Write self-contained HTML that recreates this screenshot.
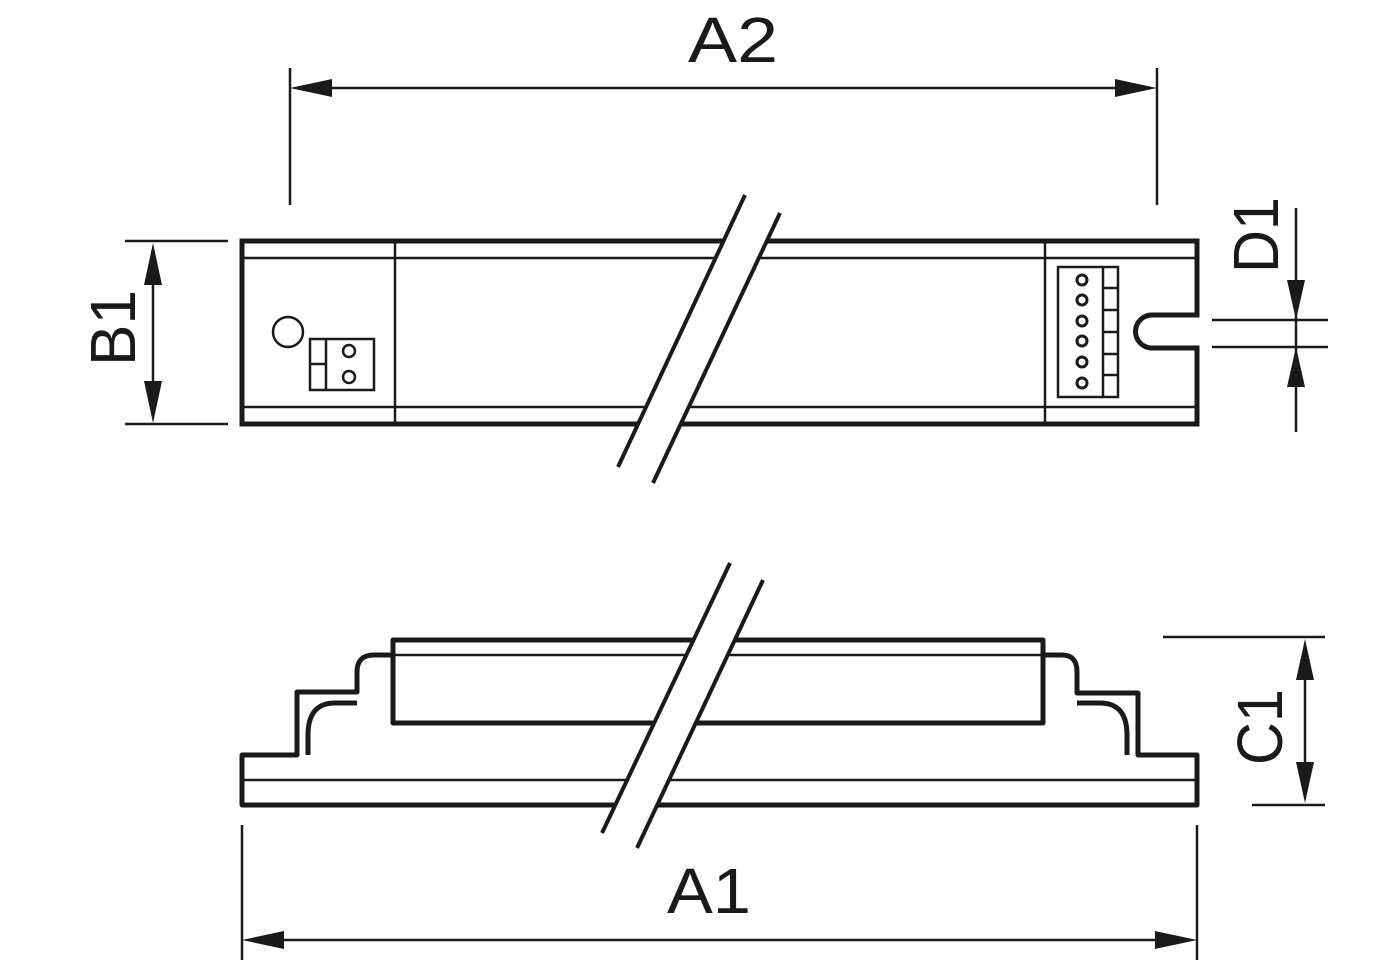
<!DOCTYPE html>
<html><head><meta charset="utf-8"><style>html,body{margin:0;padding:0;background:#fff}svg{display:block}</style></head>
<body>
<svg width="1400" height="960" viewBox="0 0 1400 960" xmlns="http://www.w3.org/2000/svg" font-family="Liberation Sans, Arial, sans-serif" fill="none" stroke="#1a1a1a">
<!-- A2 dimension -->
<g stroke-width="2.5">
<line x1="290" y1="68" x2="290" y2="205"/>
<line x1="1157" y1="68" x2="1157" y2="205"/>
<line x1="300" y1="88" x2="1147" y2="88"/>
</g>
<polygon points="290,88 332,79 332,97" fill="#1a1a1a" stroke="none"/>
<polygon points="1157,88 1115,79 1115,97" fill="#1a1a1a" stroke="none"/>
<text x="733" y="62" font-size="64" text-anchor="middle" fill="#1a1a1a" stroke="none" textLength="90" lengthAdjust="spacingAndGlyphs">A2</text>

<!-- B1 dimension -->
<g stroke-width="2.5">
<line x1="125" y1="241" x2="228" y2="241"/>
<line x1="125" y1="424" x2="228" y2="424"/>
<line x1="153" y1="250" x2="153" y2="415"/>
</g>
<polygon points="153,243 144,285 162,285" fill="#1a1a1a" stroke="none"/>
<polygon points="153,423 144,381 162,381" fill="#1a1a1a" stroke="none"/>
<text transform="translate(135,328) rotate(-90)" font-size="64" text-anchor="middle" fill="#1a1a1a" stroke="none" textLength="76" lengthAdjust="spacingAndGlyphs">B1</text>

<!-- Top view -->
<path d="M242,241 H1197 V315 H1152 A16.5,16.5 0 0 0 1152,348 H1197 V424 H242 Z" stroke-width="5"/>
<g stroke-width="2.5">
<line x1="242" y1="258" x2="1197" y2="258"/>
<line x1="242" y1="407" x2="1197" y2="407"/>
<line x1="395" y1="241" x2="395" y2="424"/>
<line x1="1045" y1="241" x2="1045" y2="424"/>
<circle cx="288" cy="332" r="15"/>
<rect x="310" y="339" width="64" height="51"/>
<line x1="326" y1="339" x2="326" y2="390"/>
<line x1="310" y1="364" x2="326" y2="364"/>
<circle cx="349" cy="351" r="6"/>
<circle cx="349" cy="377" r="6"/>
<rect x="1058" y="267" width="60" height="130"/>
<line x1="1103" y1="267" x2="1103" y2="397"/>
<line x1="1103" y1="288" x2="1118" y2="288"/>
<line x1="1103" y1="310" x2="1118" y2="310"/>
<line x1="1103" y1="332" x2="1118" y2="332"/>
<line x1="1103" y1="354" x2="1118" y2="354"/>
<line x1="1103" y1="375" x2="1118" y2="375"/>
</g>
<g stroke-width="3">
<circle cx="1082" cy="280" r="5"/>
<circle cx="1082" cy="300" r="5"/>
<circle cx="1082" cy="321" r="5"/>
<circle cx="1082" cy="341" r="5"/>
<circle cx="1082" cy="362" r="5"/>
<circle cx="1082" cy="383" r="5"/>
</g>
<!-- top break -->
<polygon points="745,195 780,213 653,483 618,467" fill="#fff" stroke="none"/>
<g stroke-width="4">
<line x1="745" y1="195" x2="618" y2="467"/>
<line x1="780" y1="213" x2="653" y2="483"/>
</g>

<!-- D1 dimension -->
<g stroke-width="2.5">
<line x1="1212" y1="320" x2="1328" y2="320"/>
<line x1="1212" y1="347" x2="1328" y2="347"/>
<line x1="1296" y1="208" x2="1296" y2="432"/>
</g>
<polygon points="1296,320 1287,280 1305,280" fill="#1a1a1a" stroke="none"/>
<polygon points="1296,347 1287,387 1305,387" fill="#1a1a1a" stroke="none"/>
<text transform="translate(1278,235) rotate(-90)" font-size="64" text-anchor="middle" fill="#1a1a1a" stroke="none" textLength="76" lengthAdjust="spacingAndGlyphs">D1</text>

<!-- Side view -->
<g stroke-width="5" stroke-linejoin="round">
<path d="M393,655 H374 Q357,655 357,672 V692 H297 V755 H242 V805 H1197 V755 H1138 V693 H1077 V672 Q1077,655 1062,655 H1043"/>
<path d="M308,755 V735 Q308,703 335,703 H357"/>
<path d="M1077,703 H1100 Q1127,703 1127,735 V755"/>
<rect x="393" y="640" width="650" height="83"/>
</g>
<g stroke-width="2.5">
<line x1="242" y1="780" x2="1197" y2="780"/>
<line x1="393" y1="655" x2="1043" y2="655"/>
</g>
<!-- bottom break -->
<polygon points="730,563 763,580 637,848 602,833" fill="#fff" stroke="none"/>
<g stroke-width="4">
<line x1="730" y1="563" x2="602" y2="833"/>
<line x1="763" y1="580" x2="637" y2="848"/>
</g>

<!-- C1 dimension -->
<g stroke-width="2.5">
<line x1="1163" y1="637" x2="1325" y2="637"/>
<line x1="1252" y1="805" x2="1325" y2="805"/>
<line x1="1305" y1="645" x2="1305" y2="797"/>
</g>
<polygon points="1305,639 1296,680 1314,680" fill="#1a1a1a" stroke="none"/>
<polygon points="1305,803 1296,762 1314,762" fill="#1a1a1a" stroke="none"/>
<text transform="translate(1282,727) rotate(-90)" font-size="64" text-anchor="middle" fill="#1a1a1a" stroke="none" textLength="76" lengthAdjust="spacingAndGlyphs">C1</text>

<!-- A1 dimension -->
<g stroke-width="2.5">
<line x1="242" y1="825" x2="242" y2="960"/>
<line x1="1197" y1="825" x2="1197" y2="960"/>
<line x1="252" y1="940" x2="1187" y2="940"/>
</g>
<polygon points="242,940 284,931 284,949" fill="#1a1a1a" stroke="none"/>
<polygon points="1197,940 1155,931 1155,949" fill="#1a1a1a" stroke="none"/>
<text x="709" y="913" font-size="64" text-anchor="middle" fill="#1a1a1a" stroke="none" textLength="84" lengthAdjust="spacingAndGlyphs">A1</text>
</svg>
</body></html>
